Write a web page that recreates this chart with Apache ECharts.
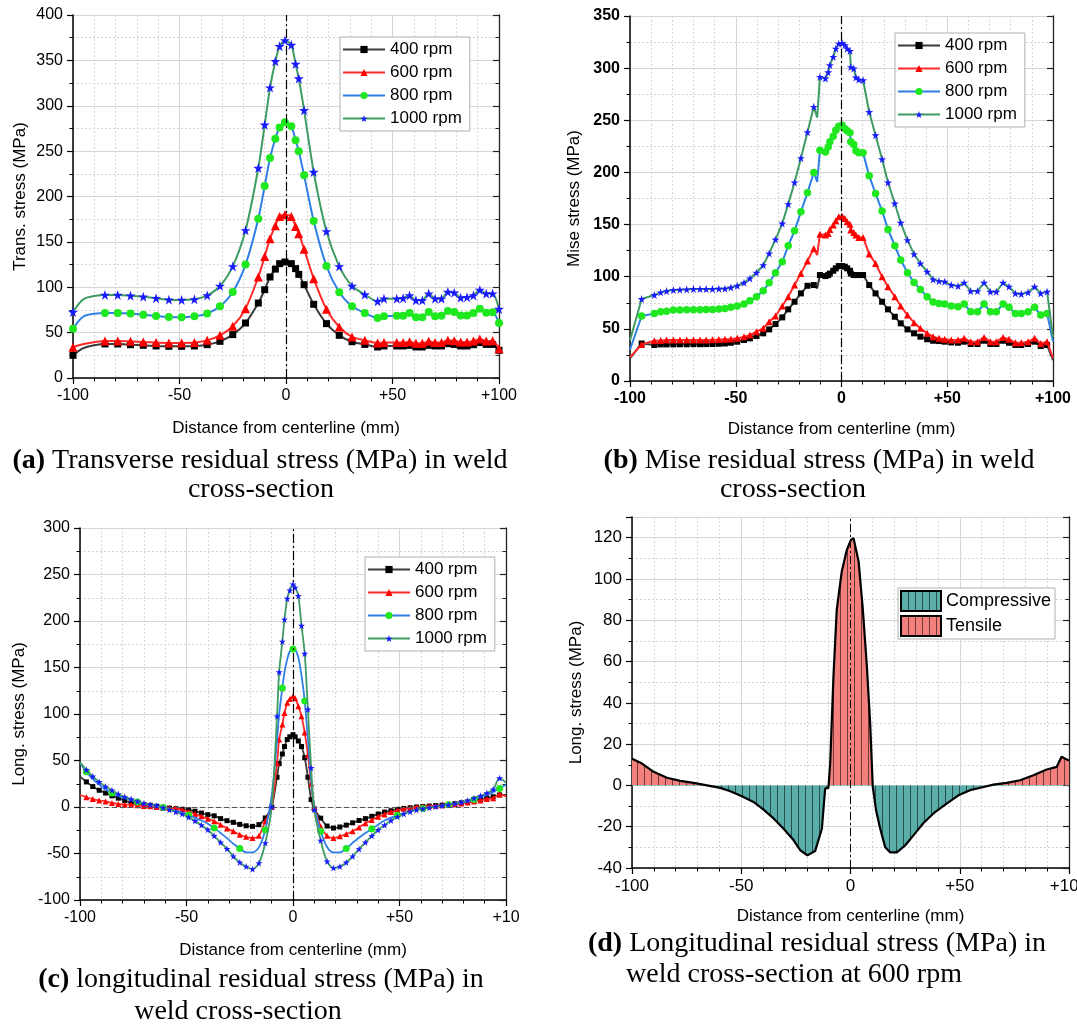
<!DOCTYPE html>
<html><head><meta charset="utf-8">
<script src="https://cdn.jsdelivr.net/npm/echarts/dist/echarts.min.js"></script>
<style>html,body{margin:0;padding:0;background:#fff}#c{width:1077px;height:1025px}</style>
</head><body><div id="c"></div>
<script>
// ---------------- DATA ----------------
const seriesNames = ['400 rpm', '600 rpm', '800 rpm', '1000 rpm'];
const xTicks = [-100, -50, 0, 50, 100];

// (a) Transverse residual stress
const xA = [-100,-95,-85,-79,-73,-67,-61,-55,-49,-43,-37,-31,-25,-19,-13,-10,-7.5,-5,-3,-0.5,2.5,4.5,6,8.5,13,19,25,31,37,43,46,52,55,58,61,64,67,70,73,76,79,82,85,88,91,94,97,100];
const a400 = [25,33,37.5,37.5,36.7,36,35.3,34.9,34.9,35.3,36.7,40.4,47.8,60.6,82.6,97.3,111.3,120,126,127.8,126,120.5,114.2,102.8,81.2,59.9,47,40,37,34.2,35.3,35.3,35.3,36,34.2,34.2,36,35.3,35.3,37.8,37,35.3,35.3,36.7,39,37,37,30.5];
const a600 = [34,37.5,40.8,40.8,40.4,39.7,39,38.6,38.6,39,41.5,47,57,76.4,111.3,134,153.5,167.9,178,180,178,167,159,142,109.5,75.7,56.2,45.2,41.5,38.6,39,39,39,40,38.2,38.2,40.4,39,39,41.5,41,39.7,39.7,40.8,43,40.8,41,32.3];
const a800 = [54.4,68,71.6,71.6,71,69.8,68.3,67.2,66.9,68,71,79,94.8,125,175.6,211.6,242.4,263.7,276,281.7,277.3,262,250,223.3,173,123.4,94.4,79,71.6,66,68,68.7,68.7,71.6,67,67,72.7,68,68.7,73.8,72.7,69,69,71.6,76.4,72,72.4,60.6];
const a1000 = [72.7,87,91.5,91.5,90.7,89.6,88,86.3,86,86.7,91,101.4,123,162.7,231.4,279,320,349,365.5,372,367,346,330,295,227,161.6,123,101.4,92,84.5,87.4,87.4,88,91,85.6,85.6,93,87.4,87.4,94.8,94,88.5,89,91,97,93,93,76];
const aUnmarked = [1];

// (b) Mises residual stress
const xB = [-100,-94.5,-88.5,-85.5,-82.7,-79.5,-76.4,-73.2,-70,-66.9,-64,-61,-58,-55.1,-52.3,-49.3,-46.1,-43.3,-40.2,-37,-34.2,-31.2,-28,-25.2,-22.2,-19.2,-16.1,-13.1,-11.5,-10.2,-7.6,-6.3,-5.5,-3.9,-2.7,-1.3,0.3,1.6,2.7,4,4.4,5.8,6.8,8.2,10.2,13.1,16.1,19.2,22,25.2,28,31.2,34.3,37.3,40.5,43.3,46.1,48.8,51.9,55.1,58,61.1,64.3,67.4,70.4,73.2,76.4,79.2,82.2,85,88.2,91.3,94.2,97.2,100];
const b400 = [21.7,36,34.5,35.1,35.1,35.1,35.2,35.2,35.3,35.3,35.4,35.5,35.7,36,36.7,37.7,39.3,40.9,43.1,45.7,49.5,54.6,61,68.7,76,84,91.3,92,89,101.6,100.6,101.6,103,105.7,108,110.2,110.2,109.6,108,105.7,103,101.6,101.6,101.6,101.6,92,84,76,68.7,61.6,55.3,49.5,45.7,42.5,40,38.6,38.3,37.7,37,36.7,37.7,35.5,35.5,38.6,35.5,35.5,38.6,36.7,34.5,34.5,35.5,37.7,33.5,34.5,20];
const b600 = [22.7,35,38.6,38.9,39.3,39.3,39.3,39.3,39.3,39.3,39.4,39.5,39.7,40,40.2,40.9,42.5,44,47.3,50.5,56.8,62.3,71.9,80.8,92,103.2,115,127.1,120.7,140.8,140,141.5,145.3,149.5,153.6,157.5,158,155.9,152.7,150.4,144.7,142.4,139.9,137.7,137.7,121.7,112.7,100,90.4,80.8,71.9,63.2,55.9,50.5,45.7,42.5,40.9,40,39.3,39.3,40.9,37.7,37.7,41.8,37.7,37.7,41.8,40,36.7,36.7,37.7,40.9,36,37.7,22];
const b800 = [30,62.3,64.8,66.4,67,68,68,68.3,68.3,68.3,68.5,68.6,69,69.6,70.6,71.9,73.8,77,80.8,86.6,94.2,103.8,114.3,129.7,144,162.2,180.5,200,191,221.3,219.7,224.5,229.3,234.7,240.5,244.3,245.3,242,240,238,229.3,226.8,220.7,218.8,218.8,196.7,179.8,162.9,145.3,129.7,116,103.8,94.5,87.8,80.8,75.7,74.4,73.8,71.9,71.2,73.8,66.4,66.4,73.8,66.4,66.4,73.8,70.6,64.8,64.8,66.4,70.6,63.2,64.8,38];
const b1000 = [39,78.6,82.4,85,86.2,87.2,87.5,87.8,88.2,88.2,88.2,88.2,88.5,88.5,89.7,91.3,94.2,98.4,103.8,111.1,122.3,135.7,151,169.6,190.4,213.7,238.6,262.9,252.6,291.6,290,296,302.8,310.8,318.7,323.5,324.2,322,318.7,316.5,301,299.6,291,289,288.4,258,235.7,212.7,190.4,170.2,151.7,135.1,121.7,112.7,104.8,97.4,95.8,95.2,92,91,94.2,86.2,86.2,94.2,85.6,85.6,94.2,90.4,84,83.4,85,90.4,84,85.6,42];
const bUnmarked = [0, 28, 74];

// (c) Longitudinal residual stress
const xC = [-100,-97,-94,-91,-88,-85,-82,-79,-76,-73,-70,-67,-64,-61,-58,-55,-52,-49,-46,-43,-40,-37,-34,-31,-28,-25,-22,-19,-16,-13,-10,-7.5,-6.5,-5,-4,-2.7,-1.5,0,1,2.5,4,5.5,7,8.5,10,13,16,19,22,25,28,31,34,37,40,43,46,49,52,55,58,61,64,67,70,73,76,79,82,85,88,91,94,97,100];
const c400 = [33,27,22,18,15,12,9.5,7,4.5,3.5,2.5,1.8,0.8,-0.4,-1.2,-1.8,-2.4,-3,-4.5,-6.5,-8.3,-9.5,-12.5,-14.7,-16.5,-18.7,-20.2,-20.8,-19,-11.8,0,32,46.6,57,65,72.5,75.5,77.8,75.5,71,65,53,32,8,-2,-12,-20.5,-22.6,-21.5,-19.5,-17,-14.5,-12.5,-10,-7.5,-5.5,-4,-2.5,-1.5,-0.8,0,0.5,1,1.5,2,2.8,3.5,4.5,5.5,6.8,8,9.5,11,13,13];
const c600 = [12.9,10.5,8.5,7,6,4.3,3.3,2.5,2.5,1.8,1.2,0.7,0,-0.7,-1,-1.4,-3,-5,-7.5,-10,-12.6,-15.4,-19,-23,-26.2,-29.8,-32,-33.4,-30.9,-15.4,0,47.4,72.5,88.6,101,112,116.2,119,117,108.3,97.6,80,56,25,0,-21,-31,-33.4,-31.5,-29,-26,-22,-17.5,-14,-10.5,-8,-5.5,-3.5,-2,-1,0,0.5,1,1.3,1.8,2.3,3,3.8,4.8,5.8,7,8.5,9.5,13.5,11.5];
const c800 = [47,38,30,24,18.7,15,12,9.7,7.5,5.3,3.5,2.2,1.2,-0.5,-2.5,-4,-6,-8.5,-11.5,-14.5,-18,-22.5,-28,-33.5,-39.5,-44.5,-48.8,-48.8,-43.4,-24.4,12,71.7,100,128,145,159,167.5,170,169.5,161,141,114,73,30,0,-26,-43,-48.8,-48.8,-44.5,-38.5,-33,-28,-23.5,-19,-14.5,-11.5,-9,-6.5,-4.5,-3,-1.5,-0.5,0.5,1.5,2.5,3.5,4.5,6,8,10.5,13,16,20,24];
const c1000 = [48,40,33,27,22,18,14,11,8.5,6,4,2.5,1.4,-0.7,-3,-5.4,-7.5,-10.8,-15,-19.4,-24.4,-31,-38,-45,-53,-59.6,-64,-66.7,-60.3,-38.7,0,97.6,145,178,201.6,224,233,239.5,236,227,195,165,105,42,-3,-36,-58.5,-65.6,-64,-59.6,-53,-45.2,-38,-31,-24.5,-19.5,-14.5,-10.5,-7.5,-5,-3.2,-1.8,-0.8,0.5,1.5,2.5,3.5,5,7,9.5,12,15,19,31,26];

// (d) Longitudinal residual stress at 600 rpm
const xD = [-100,-95.4,-90.1,-84,-77.9,-71.8,-65.7,-59.6,-55,-49.7,-44.4,-39.8,-35.2,-30.6,-26,-23,-19.7,-16.2,-13.1,-11.6,-10.1,-9.3,-7.8,-6.3,-4,-1.7,0.2,1.4,3.7,5.6,7.5,9,10.2,11.7,13.6,15.9,18.1,21.2,25,28.8,33.4,38.7,44,49.4,54.7,60,65.4,71.5,77.6,83.7,89.8,94.4,96.6,100];
const d600 = [12.9,10.6,6.6,3.7,2.2,1.2,0,-1.2,-2.8,-5.2,-8,-11.7,-16,-21,-26.6,-31.4,-33.9,-31.8,-21,-1.5,-1.2,10.6,52.7,85,103.6,114,118.9,119.7,108.5,85.9,57.5,30,-0.7,-12,-21,-30,-32.4,-32.4,-29.1,-24.2,-18.2,-12.9,-8.8,-4.8,-2.3,-1,0.4,1.2,2.5,4.9,7.7,9,13.9,12];
const dLegend = ['Compressive', 'Tensile'];

const captions = [
  ['{b|(a)} Transverse residual stress (MPa) in weld', 'cross-section'],
  ['{b|(b)} Mise residual stress (MPa) in weld', 'cross-section'],
  ['{b|(c)} longitudinal residual stress (MPa) in', 'weld cross-section'],
  ['{b|(d)} Longitudinal residual stress (MPa) in', 'weld cross-section at 600 rpm']
];
const xName = 'Distance from centerline (mm)';
const yNames = ['Trans. stress (MPa)', 'Mise stress (MPa)', 'Long. stress (MPa)', 'Long. stress (MPa)'];

// ---------------- STYLE / LAYOUT ----------------
const SANS = '"Liberation Sans", Arial, sans-serif';
const SERIF = '"Liberation Serif", "Times New Roman", serif';
const STAR = 'path://M50,0 L61.8,35.3 L98.9,35.3 L68.9,57.3 L80.2,92.7 L50,70.8 L19.8,92.7 L31.1,57.3 L1.1,35.3 L38.2,35.3 Z';
const ST = {
  '400 rpm': {line: '#3a3a3a', mark: '#000000', symbol: 'rect'},
  '600 rpm': {line: '#ff2a2a', mark: '#ff0000', symbol: 'triangle'},
  '800 rpm': {line: '#2f7fe6', mark: '#1fe81f', symbol: 'circle'},
  '1000 rpm': {line: '#3e9c62', mark: '#1a1aff', symbol: STAR}
};
const grids = [
  {left: 73, top: 15, width: 426, height: 363},
  {left: 630, top: 16, width: 423, height: 365},
  {left: 80, top: 528, width: 426, height: 372},
  {left: 632, top: 517, width: 437, height: 351}
];
const yCfg = [
  {min: 0, max: 400, interval: 50, gap: 44, xgap: 42, bold: false, fs: 16},
  {min: 0, max: 350, interval: 50, gap: 47, xgap: 40, bold: true, fs: 16},
  {min: -100, max: 300, interval: 50, gap: 52, xgap: 42, bold: false, fs: 16},
  {min: -40, max: 130, interval: 20, gap: 47, xgap: 40, bold: false, fs: 17}
];
const captionPos = [
  [[260, 461], [261, 490]],
  [[819, 461], [793, 490]],
  [[261, 980], [238, 1012]],
  [[817, 944], [794, 975]]
];

function pts(xs, ys, skip) {
  return xs.map((x, i) => skip(i) ? {value: [x, ys[i]], symbol: 'none'} : [x, ys[i]]);
}

const xAxes = [], yAxes = [];
grids.forEach((g, i) => {
  const c = yCfg[i];
  xAxes.push({
    type: 'value', gridIndex: i, min: -100, max: 100, interval: 50,
    name: xName, nameLocation: 'middle', nameGap: c.xgap,
    nameTextStyle: {fontSize: 17, color: '#000', fontFamily: SANS},
    axisLine: {show: true, onZero: false, lineStyle: {color: '#000', width: 1.5}},
    axisTick: {show: true, length: 6, lineStyle: {color: '#000', width: 1.2}},
    minorTick: {show: true, splitNumber: 5, length: 3.5, lineStyle: {color: '#000', width: 1}},
    axisLabel: {fontSize: c.fs, color: '#000', fontFamily: SANS, margin: 10, fontWeight: c.bold ? 'bold' : 'normal',
      formatter: v => v > 0 ? (i === 2 && v === 100 ? '+10' : '+' + v) : String(v)},
    splitLine: {show: true, lineStyle: {color: '#d6d6d6', width: 1}},
    minorSplitLine: {show: true, lineStyle: {color: '#d6d6d6', width: 1, type: [2, 2]}}
  });
  yAxes.push({
    type: 'value', gridIndex: i, min: c.min, max: c.max, interval: c.interval,
    name: yNames[i], nameLocation: 'middle', nameGap: c.gap,
    nameTextStyle: {fontSize: 17, color: '#000', fontFamily: SANS},
    axisLine: {show: true, onZero: false, lineStyle: {color: '#000', width: 1.5}},
    axisTick: {show: true, length: 6, lineStyle: {color: '#000', width: 1.2}},
    minorTick: {show: true, splitNumber: 2, length: 3.5, lineStyle: {color: '#000', width: 1}},
    axisLabel: {fontSize: c.fs, color: '#000', fontFamily: SANS, margin: 10, fontWeight: c.bold ? 'bold' : 'normal',
      formatter: v => (i === 3 && v === 130) ? '' : String(v)},
    splitLine: {show: true, lineStyle: {color: '#d6d6d6', width: 1}},
    minorSplitLine: {show: true, lineStyle: {color: '#d6d6d6', width: 1, type: [2, 2]}}
  });
});
grids.forEach((g, i) => {
  const c = yCfg[i];
  yAxes.push({
    type: 'value', gridIndex: i, position: 'right', min: c.min, max: c.max, interval: c.interval,
    axisLine: {show: true, onZero: false, lineStyle: {color: '#222', width: 1.3}},
    axisTick: {show: true, inside: true, length: 6, lineStyle: {color: '#222', width: 1.2}},
    minorTick: {show: true, splitNumber: 2, length: 3.5, lineStyle: {color: '#222'}},
    axisLabel: {show: false}, splitLine: {show: false}
  });
});

const centerLine = {
  silent: true, symbol: 'none', label: {show: false},
  lineStyle: {color: '#000', width: 1.2, type: [9, 3, 2, 3]},
  data: [{xAxis: 0}]
};

const series = [];
function addPanel(gi, xs, sets, sizes, width, smooth, skipFns) {
  seriesNames.forEach((name, k) => {
    const s = ST[name];
    const ser = {
      type: 'line', name, xAxisIndex: gi, yAxisIndex: gi,
      data: pts(xs, sets[k], skipFns[k]),
      symbol: s.symbol, symbolSize: sizes[k], showAllSymbol: true,
      smooth, lineStyle: {color: s.line, width}, itemStyle: {color: s.mark, borderWidth: 0},
      emphasis: {disabled: true}, z: 2 + k
    };
    if (k === 0) {
      ser.markLine = JSON.parse(JSON.stringify(centerLine));
      if (gi === 2) {
        ser.markLine.data.push({yAxis: 0, lineStyle: {color: '#555', width: 1, type: [5, 3]}});
      }
    }
    series.push(ser);
  });
}
addPanel(0, xA, [a400, a600, a800, a1000], [7, 9, 8, 10], 2, 0.25,
  [i => aUnmarked.includes(i), i => aUnmarked.includes(i), i => aUnmarked.includes(i), i => aUnmarked.includes(i)]);
addPanel(1, xB, [b400, b600, b800, b1000], [6, 7, 7.5, 8], 2, false,
  [i => bUnmarked.includes(i), i => bUnmarked.includes(i), i => bUnmarked.includes(i), i => bUnmarked.includes(i)]);
addPanel(2, xC, [c400, c600, c800, c1000], [5, 6, 7, 7], 1.8, 0.3,
  [i => i === 0 || i === 74, i => i === 0 || i === 74, i => i % 4 !== 1, i => i === 0 || i === 74]);

const hatch = {symbol: 'rect', symbolSize: 1, symbolKeepAspect: false, color: 'rgba(0,0,0,0.55)',
  dashArrayX: [1, 6], dashArrayY: [4, 0], rotation: 0};
const TEAL = '#5aaea9', SALMON = '#f3807c';
series.push({
  type: 'line', name: 'Long. 600 rpm', xAxisIndex: 3, yAxisIndex: 3,
  data: xD.map((x, i) => [x, d600[i]]), showSymbol: false, smooth: false,
  lineStyle: {color: '#000', width: 2.2, decal: hatch},
  itemStyle: {decal: hatch},
  areaStyle: {opacity: 1, origin: 0},
  emphasis: {disabled: true}, z: 2,
  markLine: {silent: true, symbol: 'none', label: {show: false},
    lineStyle: {color: '#000', width: 1, type: [8, 3, 2, 3]}, data: [{xAxis: 0}]}
});
const dIndex = series.length - 1;
series.push({type: 'bar', name: dLegend[0], xAxisIndex: 3, yAxisIndex: 3, data: [],
  itemStyle: {color: TEAL, borderColor: '#000', borderWidth: 1.5, decal: hatch}});
series.push({type: 'bar', name: dLegend[1], xAxisIndex: 3, yAxisIndex: 3, data: [],
  itemStyle: {color: SALMON, borderColor: '#000', borderWidth: 1.5, decal: hatch}});

const legendBase = {
  orient: 'vertical', itemWidth: 42, itemHeight: 9, itemGap: 6, padding: [4, 8, 4, 2],
  backgroundColor: '#fff', borderColor: '#b0b0b0', borderWidth: 1, selectedMode: false,
  textStyle: {fontSize: 17, color: '#000', fontFamily: SANS, lineHeight: 17}, data: seriesNames
};
const legends = [
  Object.assign({}, legendBase, {left: 340, top: 37}),
  Object.assign({}, legendBase, {left: 895, top: 33}),
  Object.assign({}, legendBase, {left: 365, top: 557}),
  Object.assign({}, legendBase, {left: 898, top: 588, data: dLegend, icon: 'rect',
    itemWidth: 40, itemHeight: 20, itemGap: 3, padding: [2, 4, 2, 2], textStyle: {fontSize: 18, color: '#000', fontFamily: SANS}})
];

const graphic = [];
captions.forEach((lines, i) => {
  lines.forEach((t, j) => {
    graphic.push({
      type: 'text', x: captionPos[i][j][0], y: captionPos[i][j][1], silent: true,
      style: {text: t, fontSize: 28, fontFamily: SERIF, fill: '#000', align: 'center', verticalAlign: 'middle',
        rich: {b: {fontSize: 28, fontFamily: SERIF, fontWeight: 'bold', fill: '#000'}}}
    });
  });
});

const chart = echarts.init(document.getElementById('c'), null, {renderer: 'canvas'});
chart.setOption({
  animation: false,
  backgroundColor: '#fff',
  textStyle: {fontFamily: SANS},
  grid: grids.map(g => Object.assign({outerBoundsMode: 'none', containLabel: false}, g)),
  xAxis: xAxes, yAxis: yAxes,
  legend: legends,
  visualMap: [{
    type: 'piecewise', show: false, seriesIndex: dIndex, dimension: 1,
    pieces: [{gte: -500, lt: 0, color: TEAL}, {gte: 0, lte: 500, color: SALMON}]
  }],
  graphic,
  series
});
</script></body></html>
